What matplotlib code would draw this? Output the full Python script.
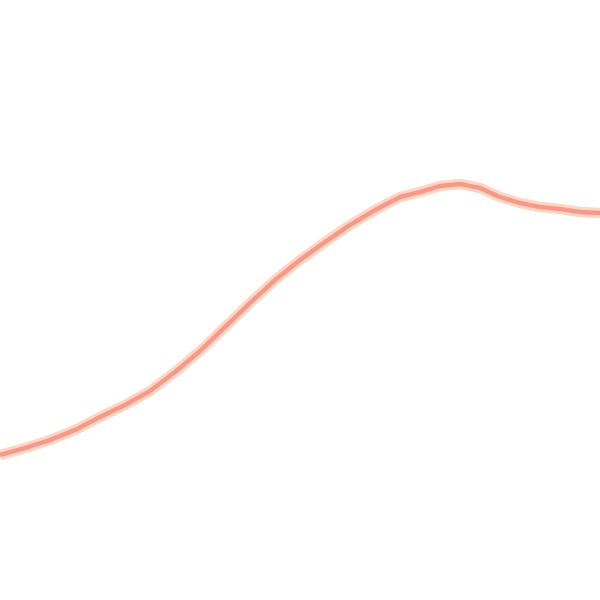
import matplotlib
matplotlib.use("Agg")
import matplotlib.pyplot as plt

# values (x position, height above bottom edge)
xs = [0, 25, 50, 75, 100, 125, 150, 175, 200, 225, 250, 275, 300, 325, 350,
      375, 400, 420, 440, 460, 480, 500, 520, 540, 560, 580, 600]
ys = [145, 152, 160, 170, 183, 195, 209, 228, 249, 273, 297, 320, 340, 358, 375,
      390, 403, 408, 414, 416, 412, 403, 397, 393, 391, 388, 387]

fig = plt.figure(figsize=(6, 6), dpi=100)
ax = fig.add_axes([0, 0, 1, 1])

# soft halo under the line, then the line itself
ax.plot(xs, ys, color="#ffd6c2", linewidth=7.5, solid_capstyle="butt",
        solid_joinstyle="round")
ax.plot(xs, ys, color="#f59a8b", linewidth=3.2, solid_capstyle="butt",
        solid_joinstyle="round")

ax.set_xlim(0, 600)
ax.set_ylim(0, 600)
ax.axis("off")

plt.savefig("out.png", dpi=100)
